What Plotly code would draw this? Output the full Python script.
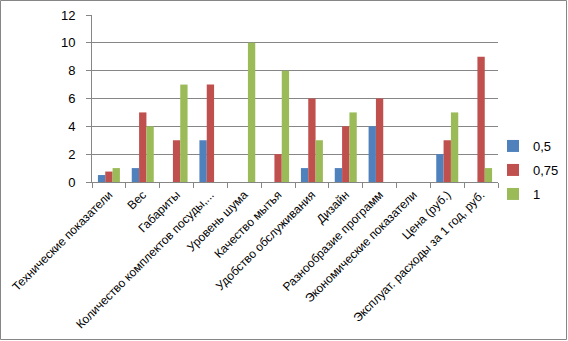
import plotly.graph_objects as go

categories = [
    "Технические показатели",
    "Вес",
    "Габариты",
    "Количество комплектов посуды,...",
    "Уровень шума",
    "Качество мытья",
    "Удобство обслуживания",
    "Дизайн",
    "Разнообразие программ",
    "Экономические показатели",
    "Цена (руб.)",
    "Эксплуат. расходы за 1 год, руб.",
]
series_names = ["0,5", "0,75", "1"]
s05 = [0.5, 1, 0, 3, 0, 0, 1, 1, 4, 0, 2, 0]
s075 = [0.75, 5, 3, 7, 0, 2, 6, 4, 6, 0, 3, 9]
s1 = [1, 4, 7, 0, 10, 8, 3, 5, 0, 0, 5, 1]
colors = ["#4F81BD", "#C0504D", "#9BBB59"]

W, H = 568, 341
ml, mr, mt, mb = 92, 70, 15, 159
pw, ph = W - ml - mr, H - mt - mb

fig = go.Figure()
legend_ids = ["legend", "legend2", "legend3"]
legend_ypx = [146, 170, 194]
for name, vals, c, lid in zip(series_names, [s05, s075, s1], colors, legend_ids):
    fig.add_trace(go.Bar(x=categories, y=vals, name=name, marker_color=c,
                         marker_line_width=0, legend=lid))

font = dict(family="Liberation Sans, Arial, sans-serif", size=12, color="#000000")
legend_common = dict(xanchor="left", yanchor="middle", font=dict(size=13),
                     itemwidth=30, bgcolor="rgba(0,0,0,0)", borderwidth=0)
layout_legends = {}
for lid, ypx in zip(legend_ids, legend_ypx):
    layout_legends[lid] = dict(x=(493 - ml) / pw, y=(H - mb - ypx) / ph, **legend_common)

fig.update_layout(
    width=W, height=H,
    margin=dict(l=ml, r=mr, t=mt, b=mb, autoexpand=False),
    paper_bgcolor="white", plot_bgcolor="white",
    barmode="group", bargap=0.35, bargroupgap=0,
    font=font,
    showlegend=True,
    xaxis=dict(tickangle=-45, showline=True, linecolor="#868686", linewidth=1,
               ticks="outside", ticklen=5, tickcolor="#868686", automargin=False,
               tickson="boundaries", showgrid=False, tickfont=dict(size=12)),
    yaxis=dict(range=[0, 12], dtick=2, showgrid=True, gridcolor="#868686",
               gridwidth=1, showline=True, linecolor="#868686", linewidth=1,
               ticks="outside", ticklen=5, tickcolor="#868686", automargin=False,
               ticklabelstandoff=8,
               zeroline=False, tickfont=dict(size=13)),
    **layout_legends,
)
fig.add_shape(type="rect", xref="paper", yref="paper",
              x0=(0.5 - ml) / pw, x1=(W - 1.5 - ml) / pw,
              y0=-(mb - 1.5) / ph, y1=(ph + mt - 0.5) / ph,
              line=dict(color="#868686", width=1), layer="above")
fig.write_html("out.html")
